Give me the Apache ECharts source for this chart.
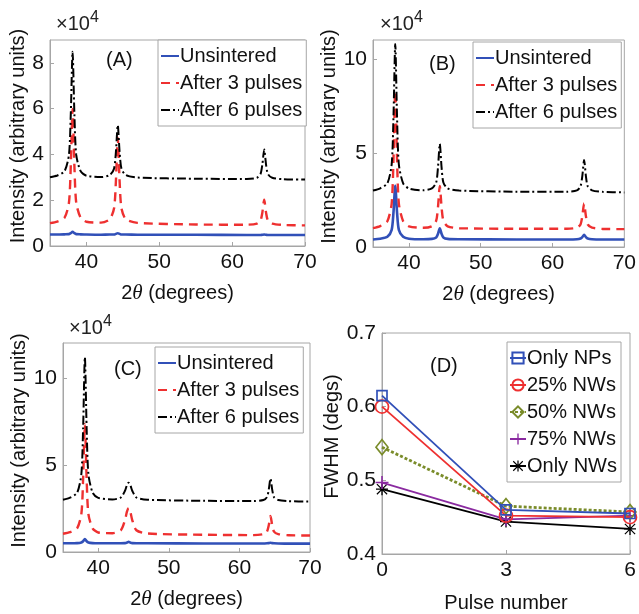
<!DOCTYPE html>
<html>
<head>
<meta charset="utf-8">
<script src="https://cdn.jsdelivr.net/npm/echarts@6/dist/echarts.min.js"></script>
<style>
  html, body { margin: 0; padding: 0; background: #fff; }
  #chart { width: 639px; height: 614px; }
</style>
</head>
<body>
<div id="chart"></div>
<script>
// ---- XRD patterns: 2θ sample positions (degrees) and intensities (×10^4) ----
const twoTheta = [35, 36, 37, 37.6, 37.85, 38.1, 38.35, 38.6, 39.2, 40, 42, 43.2, 43.8, 44.05, 44.3, 44.55, 44.8, 45.4, 47, 55, 62, 63.4, 63.9, 64.15, 64.4, 64.65, 64.9, 65.5, 67, 70];

const patternNames = ['Unsintered', 'After 3 pulses', 'After 6 pulses'];

// (A)
const aUnsintered = [0.50, 0.50, 0.51, 0.52, 0.56, 0.62, 0.56, 0.52, 0.51, 0.50, 0.49, 0.50, 0.50, 0.53, 0.56, 0.53, 0.50, 0.50, 0.49, 0.49, 0.48, 0.48, 0.48, 0.49, 0.50, 0.49, 0.48, 0.48, 0.48, 0.48];
const aPulses3 = [1.00, 1.07, 1.24, 1.89, 3.49, 5.99, 3.49, 1.89, 1.24, 1.06, 1.02, 1.17, 1.66, 2.86, 4.73, 2.86, 1.66, 1.17, 1.01, 0.94, 0.93, 0.98, 1.12, 1.47, 2.02, 1.47, 1.12, 0.98, 0.92, 0.90];
const aPulses6 = [3.00, 3.08, 3.27, 3.98, 5.74, 8.49, 5.74, 3.98, 3.27, 3.07, 3.01, 3.10, 3.39, 4.13, 5.28, 4.13, 3.39, 3.10, 2.99, 2.94, 2.93, 2.98, 3.15, 3.57, 4.22, 3.57, 3.15, 2.98, 2.92, 2.90];

// (B)
const bUnsintered = [0.40, 0.44, 0.54, 0.91, 1.83, 3.25, 1.83, 0.91, 0.54, 0.44, 0.41, 0.43, 0.51, 0.70, 1.00, 0.70, 0.51, 0.43, 0.41, 0.40, 0.40, 0.41, 0.45, 0.53, 0.65, 0.53, 0.45, 0.41, 0.40, 0.40];
const bPulses3 = [1.00, 1.11, 1.37, 2.31, 4.65, 8.30, 4.65, 2.31, 1.37, 1.10, 1.02, 1.10, 1.40, 2.12, 3.24, 2.12, 1.40, 1.10, 1.00, 0.97, 0.97, 1.03, 1.20, 1.64, 2.31, 1.64, 1.20, 1.03, 0.96, 0.95];
const bPulses6 = [3.00, 3.12, 3.38, 4.39, 6.89, 10.79, 6.89, 4.39, 3.38, 3.11, 3.01, 3.11, 3.43, 4.23, 5.48, 4.23, 3.43, 3.11, 3.00, 2.94, 2.94, 3.01, 3.23, 3.77, 4.62, 3.77, 3.23, 3.01, 2.93, 2.90];

// (C)
const cUnsintered = [0.50, 0.50, 0.51, 0.55, 0.62, 0.75, 0.62, 0.55, 0.51, 0.50, 0.50, 0.50, 0.51, 0.54, 0.58, 0.54, 0.51, 0.50, 0.50, 0.49, 0.49, 0.49, 0.50, 0.51, 0.53, 0.51, 0.50, 0.49, 0.48, 0.48];
const cPulses3 = [1.05, 1.14, 1.36, 2.17, 4.19, 7.34, 4.19, 2.17, 1.36, 1.12, 1.08, 1.25, 1.85, 2.30, 2.52, 2.30, 1.85, 1.25, 1.06, 0.99, 0.97, 1.03, 1.17, 1.52, 2.07, 1.52, 1.17, 1.03, 0.96, 0.95];
const cPulses6 = [3.00, 3.12, 3.40, 4.47, 7.09, 11.19, 7.09, 4.47, 3.40, 3.11, 3.02, 3.13, 3.53, 3.83, 3.98, 3.83, 3.53, 3.13, 3.00, 2.94, 2.93, 2.99, 3.15, 3.57, 4.22, 3.57, 3.15, 2.99, 2.92, 2.90];

const thetaTicks = [40, 50, 60, 70];
const intensityTicksA = [0, 2, 4, 6, 8];
const intensityTicksB = [0, 5, 10];
const intensityTicksC = [0, 5, 10];

// ---- (D) FWHM vs pulse number ----
const pulseNumbers = [0, 3, 6];
const pulseTicks = [0, 3, 6];
const fwhmNames = ['Only NPs', '25% NWs', '50% NWs', '75% NWs', 'Only NWs'];
const fwhmOnlyNPs = [0.615, 0.460, 0.455];
const fwhm25 = [0.600, 0.452, 0.450];
const fwhm50 = [0.545, 0.465, 0.457];
const fwhm75 = [0.497, 0.447, 0.452];
const fwhmOnlyNWs = [0.488, 0.444, 0.434];
const fwhmTicks = [0.4, 0.5, 0.6, 0.7];

// ---- styling ----
const FONT = 'Liberation Sans, Arial, sans-serif';
const BOX = '#a6a6a6';
const BLUE = '#3150b8';
const RED = '#ee3030';
const OLIVE = '#7a8c2a';
const PURPLE = '#8a2aa0';
const BLACK = '#000000';

const PLUS = 'path://M4.4,0h1.2v10h-1.2z M0,4.4h10v1.2h-10z';
const STAR = 'path://M4.45,0h1.1v10h-1.1z M0,4.45h10v1.1h-10z M1.1,0.4L9.6,8.9L8.9,9.6L0.4,1.1z M8.9,0.4L9.6,1.1L1.1,9.6L0.4,8.9z';

const zip = (xs, ys) => xs.map((x, i) => [x, ys[i]]);

const grids = [
  { left: 50, top: 40, width: 255, height: 206 },
  { left: 373, top: 40, width: 254, height: 207 },
  { left: 63, top: 343, width: 247, height: 209 },
  { left: 382, top: 333, width: 248, height: 224 }
].map(g => Object.assign({ show: true, borderColor: BOX, borderWidth: 1, backgroundColor: '#fff' }, g));

function xAxisFor(gridIndex, min, max, ticks, name) {
  return {
    type: 'value', gridIndex, min, max,
    name, nameLocation: 'middle', nameGap: 37,
    nameTextStyle: {
      fontFamily: FONT, fontSize: 20, color: '#111',
      rich: { it: { fontFamily: 'Liberation Serif, Times New Roman, serif', fontStyle: 'italic', fontSize: 21, color: '#111' } }
    },
    axisLine: { show: true, lineStyle: { color: BOX, width: 1 } },
    axisTick: { show: true, inside: true, length: 4, lineStyle: { color: BOX }, customValues: ticks },
    axisLabel: { fontFamily: FONT, fontSize: 21, color: '#111', margin: 6, customValues: ticks },
    splitLine: { show: false }
  };
}

function yAxisFor(gridIndex, min, max, ticks, name, gap, fmt) {
  return {
    type: 'value', gridIndex, min, max,
    name, nameLocation: 'middle', nameGap: gap,
    nameTextStyle: { fontFamily: FONT, fontSize: 20, color: '#111', padding: [0, 0, 0, 14] },
    axisLine: { show: true, lineStyle: { color: BOX, width: 1 } },
    axisTick: { show: true, inside: true, length: 4, lineStyle: { color: BOX }, customValues: ticks },
    axisLabel: { fontFamily: FONT, fontSize: 21, color: '#111', margin: 6, customValues: ticks, formatter: fmt },
    splitLine: { show: false }
  };
}

const thetaName = '2{it|θ} (degrees)';
const intensityName = 'Intensity (arbitrary units)';

const patternStyles = [
  { color: BLUE, width: 2.6, type: 'solid' },
  { color: RED, width: 2.4, type: [9, 6] },
  { color: BLACK, width: 2, type: [9, 3, 2, 3] }
];

function patternSeries(idx, values, k) {
  const st = patternStyles[k];
  return {
    type: 'line', name: patternNames[k], xAxisIndex: idx, yAxisIndex: idx,
    data: zip(twoTheta, values), symbol: 'none', smooth: 0.25,
    lineStyle: { color: st.color, width: st.width, type: st.type },
    itemStyle: { color: st.color },
    z: 2 + k
  };
}

function fwhmSeries(k, values, symbol, size, color, lineType, hollow) {
  return {
    type: 'line', name: fwhmNames[k], xAxisIndex: 3, yAxisIndex: 3,
    data: zip(pulseNumbers, values),
    symbol, symbolSize: size, showSymbol: true,
    lineStyle: { color, width: lineType === 'solid' ? 1.8 : 2.8, type: lineType },
    itemStyle: hollow ? { color: 'rgba(0,0,0,0)', borderColor: color, borderWidth: 1.7 } : { color, borderWidth: 0 },
    z: 10 - k
  };
}

function patternLegend(left, top) {
  return {
    orient: 'vertical', left, top,
    data: patternNames.slice(),
    itemWidth: 18, itemHeight: 12, itemGap: 7,
    padding: [6, 4, 6, 2],
    backgroundColor: '#fff', borderColor: BOX, borderWidth: 1,
    itemStyle: { opacity: 0 },
    textStyle: { fontFamily: FONT, fontSize: 20, color: '#111', padding: [0, 0, 0, -4] },
    selectedMode: false
  };
}

const sciRich = { sup: { fontFamily: FONT, fontSize: 16, color: '#222', verticalAlign: 'top', padding: [0, 0, 12, 0] } };
function sciTitle(left, top) {
  return { text: '×10{sup|4}', left, top, textStyle: { fontFamily: FONT, fontSize: 20, fontWeight: 'normal', color: '#222', rich: sciRich } };
}
function panelTitle(text, left, top) {
  return { text, left, top, textStyle: { fontFamily: FONT, fontSize: 20, fontWeight: 'normal', color: '#111' } };
}

const option = {
  backgroundColor: '#fff',
  animation: false,
  title: [
    sciTitle(51, 5), sciTitle(375, 5), sciTitle(64, 309),
    panelTitle('(A)', 101, 45), panelTitle('(B)', 424, 49), panelTitle('(C)', 109, 354), panelTitle('(D)', 425, 351)
  ],
  grid: grids,
  xAxis: [
    xAxisFor(0, 35, 70, thetaTicks, thetaName),
    xAxisFor(1, 35, 70, thetaTicks, thetaName),
    xAxisFor(2, 35, 70, thetaTicks, thetaName),
    Object.assign(xAxisFor(3, 0, 6, pulseTicks, 'Pulse number'), { nameGap: 39 })
  ],
  yAxis: [
    yAxisFor(0, 0, 9, intensityTicksA, intensityName, 5),
    yAxisFor(1, 0, 11, intensityTicksB, intensityName, 20),
    yAxisFor(2, 0, 12, intensityTicksC, intensityName, 21),
    yAxisFor(3, 0.4, 0.7, fwhmTicks, 'FWHM (degs)', 37, v => v.toFixed(1))
  ],
  legend: [
    patternLegend(158, 40),
    patternLegend(473, 42),
    patternLegend(155, 347),
    {
      orient: 'vertical', left: 507, top: 342,
      data: fwhmNames.slice(),
      itemWidth: 16, itemHeight: 14, itemGap: 7,
      padding: [6, 4, 6, 2],
      backgroundColor: '#fff', borderColor: BOX, borderWidth: 1,
      textStyle: { fontFamily: FONT, fontSize: 20, color: '#111', padding: [0, 0, 0, -4] },
      selectedMode: false
    }
  ],
  series: [
    patternSeries(0, aUnsintered, 0), patternSeries(0, aPulses3, 1), patternSeries(0, aPulses6, 2),
    patternSeries(1, bUnsintered, 0), patternSeries(1, bPulses3, 1), patternSeries(1, bPulses6, 2),
    patternSeries(2, cUnsintered, 0), patternSeries(2, cPulses3, 1), patternSeries(2, cPulses6, 2),
    fwhmSeries(0, fwhmOnlyNPs, 'rect', 10, BLUE, 'solid', true),
    fwhmSeries(1, fwhm25, 'circle', 13, RED, 'solid', true),
    fwhmSeries(2, fwhm50, 'diamond', [12, 15], OLIVE, [3, 2], true),
    fwhmSeries(3, fwhm75, PLUS, 13, PURPLE, 'solid', false),
    fwhmSeries(4, fwhmOnlyNWs, STAR, 12, BLACK, 'solid', false)
  ]
};

const chart = echarts.init(document.getElementById('chart'), null, { renderer: 'canvas' });
chart.setOption(option);
</script>
</body>
</html>
